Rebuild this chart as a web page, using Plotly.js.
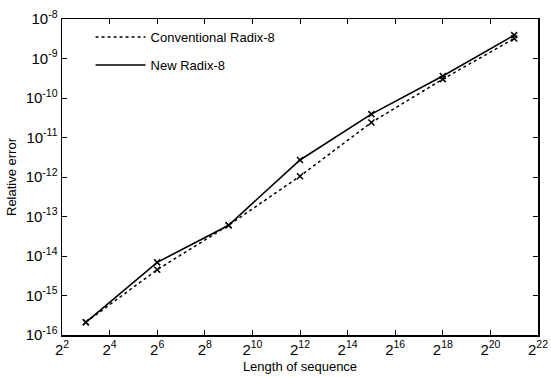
<!DOCTYPE html>
<html>
<head>
<meta charset="utf-8">
<script src="https://cdn.plot.ly/plotly-3.0.1.min.js"></script>
<style>html,body{margin:0;padding:0;background:#fff;}#chart{width:551px;height:377px;}</style>
</head>
<body>
<div id="chart"></div>
<script>
// Data
const exponents = [3, 6, 9, 12, 15, 18, 21];
const conventionalRadix8 = [2.1e-16, 4.5e-15, 6.0e-14, 1.05e-12, 2.4e-11, 3.0e-10, 3.2e-9];
const newRadix8 = [2.1e-16, 6.9e-15, 6.0e-14, 2.7e-12, 3.9e-11, 3.6e-10, 3.9e-9];
const seriesNames = ["Conventional Radix-8", "New Radix-8"];
const xTickExps = [2, 4, 6, 8, 10, 12, 14, 16, 18, 20, 22];
const yTickExps = [-16, -15, -14, -13, -12, -11, -10, -9, -8];

const xs = exponents.map(e => Math.pow(2, e));
const font = {family: "Liberation Sans, Arial, sans-serif", color: "#000"};

const traces = [
  {x: xs, y: conventionalRadix8, mode: "lines", name: seriesNames[0], legendgroup: "a",
   line: {color: "#000", width: 1.5, dash: "dot"}},
  {x: xs, y: newRadix8, mode: "lines", name: seriesNames[1], legendgroup: "b",
   line: {color: "#000", width: 1.6}},
  {x: xs, y: conventionalRadix8, mode: "markers", showlegend: false,
   marker: {symbol: "x-thin-open", size: 6, color: "#000", line: {width: 1.5, color: "#000"}}},
  {x: xs, y: newRadix8, mode: "markers", showlegend: false,
   marker: {symbol: "x-thin-open", size: 6, color: "#000", line: {width: 1.5, color: "#000"}}}
];

const layout = {
  width: 551, height: 377,
  margin: {l: 62, r: 13, t: 19, b: 42},
  paper_bgcolor: "#fff", plot_bgcolor: "#fff",
  font: Object.assign({size: 13}, font),
  showlegend: true,
  legend: {x: 0.06, y: 0.99, xanchor: "left", yanchor: "top", bgcolor: "rgba(0,0,0,0)",
           font: Object.assign({size: 13}, font), tracegroupgap: 8, itemwidth: 50},
  xaxis: {
    type: "log", range: [Math.log10(4), Math.log10(Math.pow(2, 22))],
    tickvals: xTickExps.map(e => Math.pow(2, e)),
    ticktext: xTickExps.map(e => "2<sup>" + e + "</sup>"),
    ticks: "inside", ticklen: 5, tickcolor: "#000", tickwidth: 1,
    showline: true, linecolor: "#000", linewidth: 1.5, mirror: "ticks",
    showgrid: false, zeroline: false,
    tickfont: Object.assign({size: 15}, font),
    title: {text: "Length of sequence", font: Object.assign({size: 13}, font), standoff: 5}
  },
  yaxis: {
    type: "log", range: [-16, -8],
    tickvals: yTickExps.map(e => Math.pow(10, e)),
    ticktext: yTickExps.map(e => "10<sup>" + e + "</sup>"),
    ticks: "inside", ticklen: 5, tickcolor: "#000", tickwidth: 1,
    showline: true, linecolor: "#000", linewidth: 1.5, mirror: "ticks",
    showgrid: false, zeroline: false,
    tickfont: Object.assign({size: 15}, font),
    title: {text: "Relative error", font: Object.assign({size: 13}, font), standoff: 6}
  }
};

Plotly.newPlot("chart", traces, layout, {displayModeBar: false, staticPlot: true});
</script>
</body>
</html>
